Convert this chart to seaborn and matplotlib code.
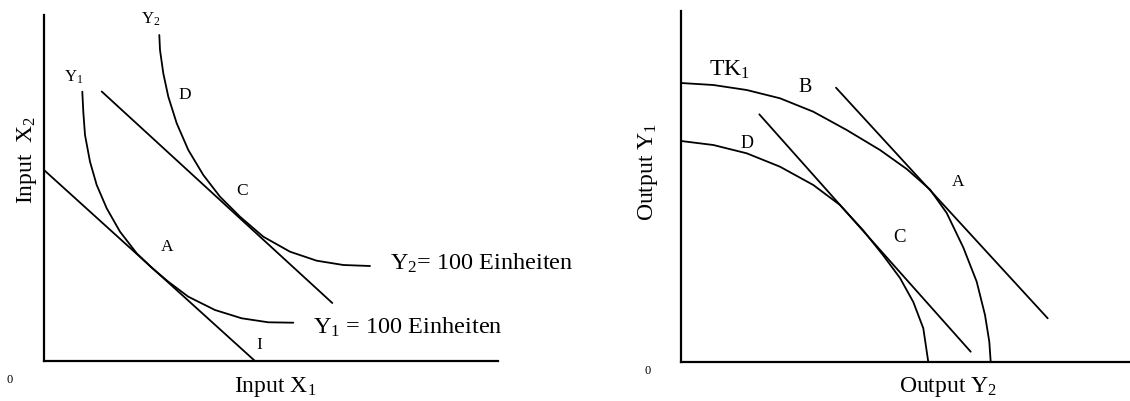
import matplotlib
matplotlib.use("Agg")
import matplotlib.pyplot as plt
import seaborn as sns
import pandas as pd

# ---------------- data ----------------
# Left panel: isoquants and isocost lines
y1_iso_x = [38.3, 39.3, 41, 46, 52.7, 62.7, 76, 92.7, 107.7, 124.3, 144.3, 171, 197.7, 224.3, 249.3]
y1_iso_y = [269.3, 249.3, 226, 199.3, 176, 152.7, 129.3, 107.7, 93.3, 79.3, 64.3, 51, 42.7, 38.7, 38.3]
y2_iso_x = [115.3, 116, 119.3, 124.3, 132.7, 144.3, 159.3, 176, 196, 219.3, 246, 272.7, 299.3, 326]
y2_iso_y = [326, 311, 287.7, 264.3, 237.7, 211, 186, 164.3, 144.3, 124.3, 109.3, 100.3, 96, 95]
iso_I_x = [0, 211]
iso_I_y = [191, 0]
iso_2_x = [57.7, 288.3]
iso_2_y = [269.5, 58]

# Right panel: transformation curves and price lines
tk1_x = [0, 32.3, 65.7, 99, 132.3, 165.7, 199, 225.7, 249, 265.7, 282.3, 295.7, 304, 308.3, 309.7]
tk1_y = [279, 277, 272, 263.7, 250.3, 232, 212, 193, 172.5, 149, 114.5, 80.3, 47, 20.3, 0]
tk0_x = [0, 32.3, 65.7, 99, 132.3, 159, 182.3, 202.3, 219, 232.3, 242.3, 247.3]
tk0_y = [221, 217, 208.7, 195.3, 177, 157, 131.5, 106.5, 84, 60, 33.7, 0]
lineC_x = [78.3, 289.7]
lineC_y = [247.7, 10.3]
lineA_x = [155, 366.7]
lineA_y = [274.3, 43.7]

sns.set_style("white")
plt.rcParams["font.family"] = ["Liberation Serif", "DejaVu Serif"]
plt.rcParams["mathtext.default"] = "regular"

W, H = 1130, 401
fig = plt.figure(figsize=(W / 100, H / 100), dpi=100)

axL = fig.add_axes([44 / W, (H - 361) / H, (498 - 44) / W, (361 - 15) / H])
axR = fig.add_axes([681 / W, (H - 362) / H, (1130 - 681) / W, (362 - 11) / H])

def draw(ax, xs, ys):
    df = pd.DataFrame({"x": xs, "y": ys})
    sns.lineplot(data=df, x="x", y="y", ax=ax, sort=False, estimator=None,
                 color="black", linewidth=1.3)

for xs, ys in [(y1_iso_x, y1_iso_y), (y2_iso_x, y2_iso_y),
               (iso_I_x, iso_I_y), (iso_2_x, iso_2_y)]:
    draw(axL, xs, ys)
for xs, ys in [(tk1_x, tk1_y), (tk0_x, tk0_y),
               (lineC_x, lineC_y), (lineA_x, lineA_y)]:
    draw(axR, xs, ys)

axL.set_xlim(0, 454)
axL.set_ylim(0, 346)
axR.set_xlim(0, 449)
axR.set_ylim(0, 351)

for ax in (axL, axR):
    ax.set_xlabel("")
    ax.set_ylabel("")
    ax.set_xticks([])
    ax.set_yticks([])
    for s in ("top", "right"):
        ax.spines[s].set_visible(False)
    for s in ("left", "bottom"):
        ax.spines[s].set_color("black")
        ax.spines[s].set_linewidth(1.6)
    ax.set_facecolor("white")

def t(ax, x, y, s, size, **kw):
    ax.text(x, y, s, fontsize=size, color="black", clip_on=False,
            ha=kw.pop("ha", "center"), va=kw.pop("va", "center"), **kw)

# left labels
t(axL, 107, 342, "Y$_2$", 12)
t(axL, 30, 284, "Y$_1$", 12)
t(axL, 141, 266, "D", 12.5)
t(axL, 198, 170, "C", 12.5)
t(axL, 123, 114, "A", 12.5)
t(axL, 215, 16, "I", 12.5)
t(axL, 346, 98, "Y$_2$= 100 Einheiten", 17.5, ha="left")
t(axL, 269, 34, "Y$_1$ = 100 Einheiten", 17.5, ha="left")
t(axL, -34, -19, "0", 9)
t(axL, -17, 201, "Input  X$_2$", 17, rotation=90)
t(axL, 231, -26, "Input X$_1$", 17)

# right labels
t(axR, 48, 292, "TK$_1$", 17)
t(axR, 124, 275, "B", 14.5)
t(axR, 66, 219, "D", 13)
t(axR, 277, 180, "A", 12.5)
t(axR, 219, 124, "C", 13.5)
t(axR, -33, -9, "0", 9)
t(axR, -33, 190, "Output Y$_1$", 17, rotation=90)
t(axR, 267, -25, "Output Y$_2$", 17)

fig.savefig("out.png", dpi=100, facecolor="white")
